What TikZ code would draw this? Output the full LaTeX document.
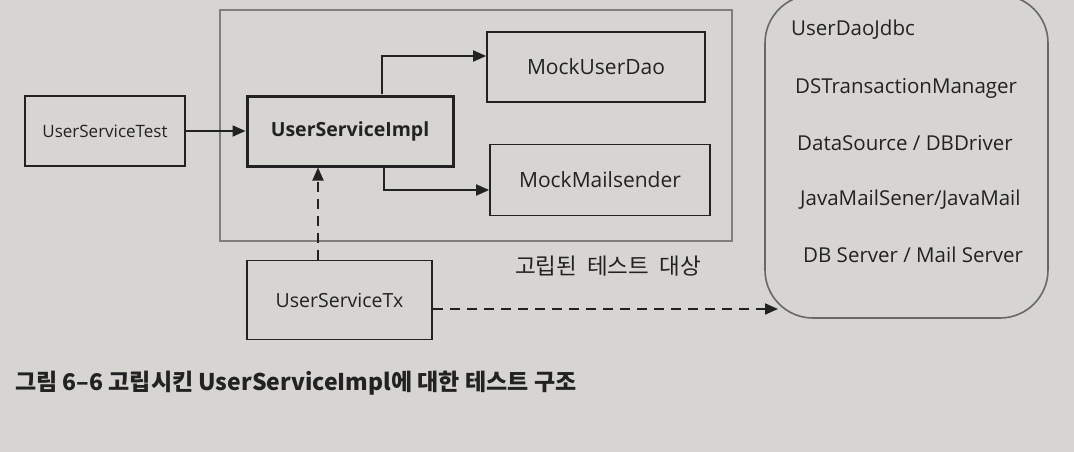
\documentclass[tikz,border=0pt]{standalone}
\usepackage{fontspec}
\setmainfont{Open Sans}
\newfontfamily\kr{Noto Sans CJK KR}
\usetikzlibrary{arrows.meta}
\definecolor{bg}{HTML}{D6D5D1}
\definecolor{ink}{HTML}{222222}
\definecolor{frame}{HTML}{7E7E7C}
\definecolor{rframe}{HTML}{686866}
\begin{document}
\begin{tikzpicture}[x=1pt,y=-1pt,
  box/.style={draw=ink, line width=1.7pt, fill=bg, inner sep=0pt, text=ink},
  lbl/.style={text=ink, inner sep=0pt, font=\fontsize{20.5}{24}\selectfont},
  arr/.style={draw=ink, line width=1.8pt, -{Triangle[length=13pt,width=11pt]}},
  darr/.style={arr, dash pattern=on 10pt off 7pt}]
\useasboundingbox[fill=bg] (0,0) rectangle (1074,452);
% isolated test target frame
\node[draw=frame, line width=1.8pt, minimum width=512pt, minimum height=231pt, inner sep=0pt] (tgt) at (476,125.5) {};
% right rounded box
\node[draw=rframe, line width=1.6pt, rounded corners=48pt, minimum width=283pt, minimum height=323pt, inner sep=0pt] (rb) at (906.5,156.5) {};
% boxes
\node[box, minimum width=160pt, minimum height=70pt, font=\fontsize{17}{20}\selectfont] (test) at (105,131) {UserServiceTest};
\node[box, line width=3pt, minimum width=206pt, minimum height=70pt, font=\fontsize{19.5}{23}\selectfont\bfseries] (impl) at (350,131) {UserServiceImpl};
\node[box, minimum width=218pt, minimum height=70pt, font=\fontsize{21}{24}\selectfont] (mud) at (596,67) {MockUserDao};
\node[box, minimum width=220pt, minimum height=71pt, font=\fontsize{21}{24}\selectfont] (mms) at (600,180) {MockMailsender};
\node[box, minimum width=185pt, minimum height=79pt, font=\fontsize{19.5}{23}\selectfont] (tx) at (339.5,300) {UserServiceTx};
% texts in the rounded box
\node[lbl, anchor=west] (r1) at (791,30) {UserDaoJdbc};
\node[lbl, anchor=west] (r2) at (795,88) {DSTransactionManager};
\node[lbl, anchor=west] (r3) at (797,143) {DataSource / DBDriver};
\node[lbl, anchor=west] (r4) at (800,200) {JavaMailSener/JavaMail};
\node[lbl, anchor=west] (r5) at (803,255) {DB Server / Mail Server};
% labels
\node[text=ink, inner sep=0pt, font=\kr\fontsize{22.5}{26}\selectfont] (tl) at (608,266) {고립된\hspace{10pt}테스트\hspace{10pt}대상};
\node[text=ink, inner sep=0pt, anchor=west, font=\kr\fontsize{23}{26}\selectfont\bfseries] (cap) at (15,383) {그림 6–6 고립시킨 UserServiceImpl에 대한 테스트 구조};
% connectors
\coordinate (rbin) at (778,309);
\draw[arr] (test.east) -- (impl.west);
\draw[arr] ([xshift=32pt]impl.north) |- ([yshift=11pt]mud.west);
\draw[arr] ([xshift=34pt]impl.south) |- ([yshift=-10pt]mms.west);
\draw[darr] ([xshift=-21.5pt]tx.north) -- ([xshift=-21.5pt]tx.north |- impl.south);
\draw[darr] ([yshift=-9pt]tx.east) -- (rbin);
\end{tikzpicture}
\end{document}
